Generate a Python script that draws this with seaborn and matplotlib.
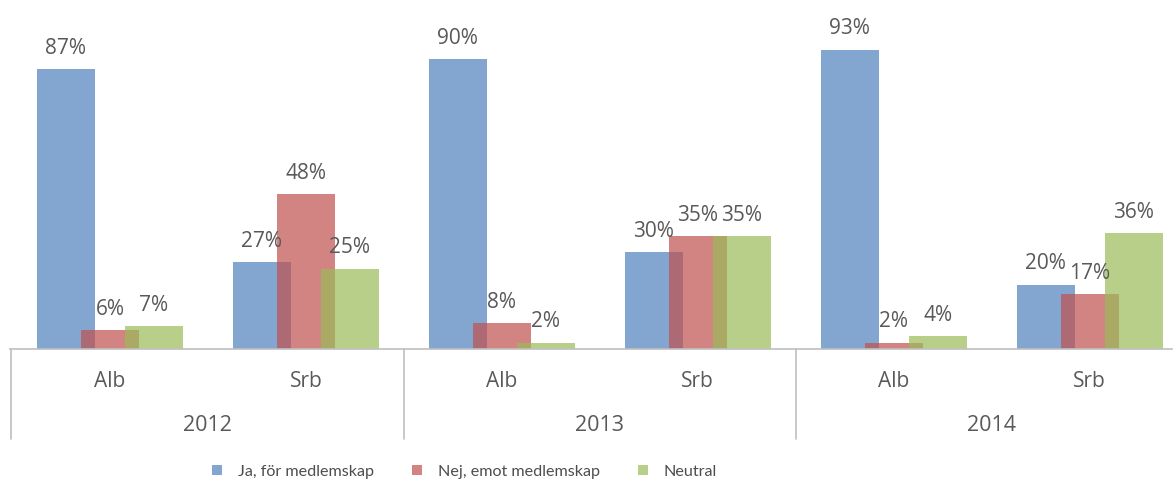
import matplotlib
matplotlib.use("Agg")
import matplotlib.pyplot as plt
import matplotlib.transforms as mtransforms
from matplotlib.lines import Line2D
import seaborn as sns
import pandas as pd

# ---- data ----
years = ["2012", "2013", "2014"]
countries = ["Alb", "Srb"]
series_names = ["Ja, för medlemskap", "Nej, emot medlemskap", "Neutral"]
ja = [87, 27, 90, 30, 93, 20]
nej = [6, 48, 8, 35, 2, 17]
neutral = [7, 25, 2, 35, 4, 36]
colors = ["#4F81BD", "#C0504D", "#9BBB59"]

cats = [f"{y}-{c}" for y in years for c in countries]
rows = []
for name, vals in zip(series_names, [ja, nej, neutral]):
    for cat, v in zip(cats, vals):
        rows.append({"cat": cat, "series": name, "value": v})
df = pd.DataFrame(rows)

sns.set_theme(style="white")
plt.rcParams["font.family"] = ["Open Sans", "DejaVu Sans"]
text_color = "#595959"
line_color = "#BFBFBF"

W, H = 1173, 489
fig = plt.figure(figsize=(W / 100, H / 100), dpi=100)
ax = fig.add_axes([10 / W, 139 / H, 1162 / W, 322 / H])

# pick legend font size so the first label has roughly the reference width
legend_family = ["Lato", "DejaVu Sans"]
renderer = fig.canvas.get_renderer()
probe = fig.text(0, 0, series_names[0], fontsize=12, family=legend_family)
pw = probe.get_window_extent(renderer).width
probe.remove()
legend_size = 12 * 136 / pw

bar_alpha = 0.7
sns.barplot(data=df, x="cat", y="value", hue="series", order=cats,
            hue_order=series_names, palette=colors, width=0.673,
            saturation=1, alpha=bar_alpha, linewidth=0, dodge=True,
            legend=False, ax=ax)

# widen bars so they overlap like the original
new_w = 0.296
for cont in ax.containers:
    for p in cont:
        c = p.get_x() + p.get_width() / 2
        p.set_x(c - new_w / 2)
        p.set_width(new_w)

for cont, vals in zip(ax.containers, [ja, nej, neutral]):
    ax.bar_label(cont, labels=[f"{v}%" for v in vals], padding=8,
                 color=text_color, fontsize=15)

ax.set_ylim(0, 100)
ax.set_xlim(-0.51, 5.42)
ax.set_yticks([])
ax.set_xlabel("")
ax.set_ylabel("")
for s in ["left", "top", "right"]:
    ax.spines[s].set_visible(False)
ax.spines["bottom"].set_color(line_color)
ax.spines["bottom"].set_linewidth(1.2)

ax.set_xticks(range(len(cats)))
ax.set_xticklabels([c for _ in years for c in countries], color=text_color,
                   fontsize=15)
ax.tick_params(axis="x", length=0, pad=15)

trans = mtransforms.blended_transform_factory(ax.transData, ax.transAxes)
for i, y in enumerate(years):
    ax.text(2 * i + 0.5, -0.236, y, transform=trans, ha="center", va="center",
            color=text_color, fontsize=15.5)
for xv in [-0.505, 1.5, 3.5, 5.5]:
    ax.plot([xv, xv], [0, -0.28], transform=trans, color=line_color,
            lw=1.2, clip_on=False)

handles = [Line2D([], [], marker="s", linestyle="", markersize=7.5,
                  markerfacecolor=c, markeredgewidth=0, alpha=bar_alpha)
           for c in colors]
fig.legend(handles, series_names, loc="center",
           bbox_to_anchor=(459 / W, 1 - 472 / H), ncol=3, frameon=False,
           prop={"family": legend_family, "size": legend_size},
           handletextpad=0.25, columnspacing=1.7, labelcolor="#4d4d4d")

fig.savefig("out.png", dpi=100)
